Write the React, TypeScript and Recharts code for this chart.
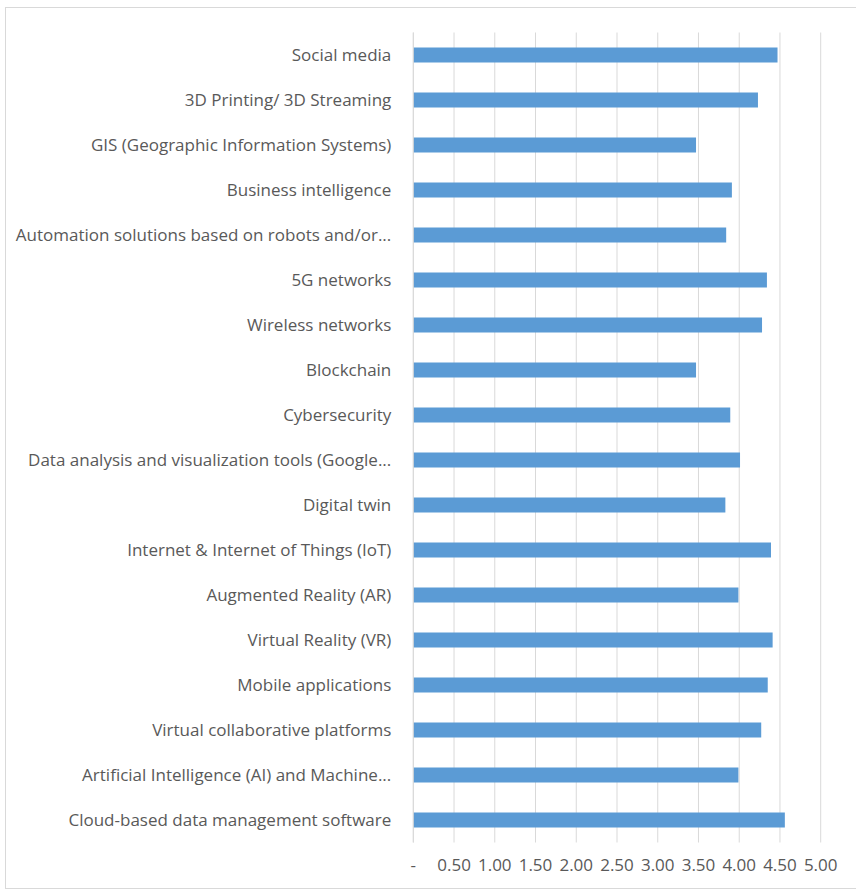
import React from "react";
import { BarChart, Bar, XAxis, YAxis, CartesianGrid } from "recharts";

const categories = [
  "Social media",
  "3D Printing/ 3D Streaming",
  "GIS (Geographic Information Systems)",
  "Business intelligence",
  "Automation solutions based on robots and/or...",
  "5G networks",
  "Wireless networks",
  "Blockchain",
  "Cybersecurity",
  "Data analysis and visualization tools (Google...",
  "Digital twin",
  "Internet & Internet of Things (IoT)",
  "Augmented Reality (AR)",
  "Virtual Reality (VR)",
  "Mobile applications",
  "Virtual collaborative platforms",
  "Artificial Intelligence (AI) and Machine...",
  "Cloud-based data management software",
];

const scores = [
  4.47, 4.23, 3.47, 3.91, 3.84, 4.34, 4.28, 3.47, 3.89, 4.01, 3.83, 4.39, 3.99,
  4.41, 4.35, 4.27, 3.99, 4.56,
];

const tickValues = [0, 0.5, 1, 1.5, 2, 2.5, 3, 3.5, 4, 4.5, 5];
const tickLabels = ["-", "0.50", "1.00", "1.50", "2.00", "2.50", "3.00", "3.50", "4.00", "4.50", "5.00"];

const data = categories.map((name, i) => ({ name, value: scores[i] }));

const FONT = "'Open Sans', sans-serif";
const TEXT = "#595959";

export default function App() {
  return (
    <div
      style={{
        position: "absolute",
        left: 0,
        top: 0,
        width: 856,
        height: 892,
        overflow: "hidden",
        background: "#ffffff",
      }}
    >
      <div
        style={{
          position: "absolute",
          left: 5,
          top: 7,
          width: 900,
          height: 882,
          border: "1px solid #d9d9d9",
          boxSizing: "border-box",
        }}
      />
      <div style={{ position: "absolute", left: 0, top: 0 }}>
        <BarChart
          width={856}
          height={892}
          data={data}
          layout="vertical"
          margin={{ top: 32.5, right: 35.3, bottom: 19.5, left: 0 }}
        >
          <CartesianGrid horizontal={false} vertical={true} stroke="#d9d9d9" />
          <XAxis
            type="number"
            domain={[0, 5]}
            ticks={tickValues}
            interval={0}
            tickFormatter={(v: number) => tickLabels[tickValues.indexOf(v)] ?? ""}
            axisLine={false}
            tickLine={false}
            height={30}
            tickMargin={10}
            tick={{ fill: TEXT, fontSize: 17, fontFamily: FONT }}
          />
          <YAxis
            type="category"
            dataKey="name"
            width={413.3}
            interval={0}
            axisLine={{ stroke: "#d9d9d9" }}
            tickLine={false}
            tickMargin={16}
            tick={{ fill: TEXT, fontSize: 17, fontFamily: FONT }}
          />
          <Bar dataKey="value" fill="#5B9BD5" barSize={15} isAnimationActive={false} />
        </BarChart>
      </div>
    </div>
  );
}
